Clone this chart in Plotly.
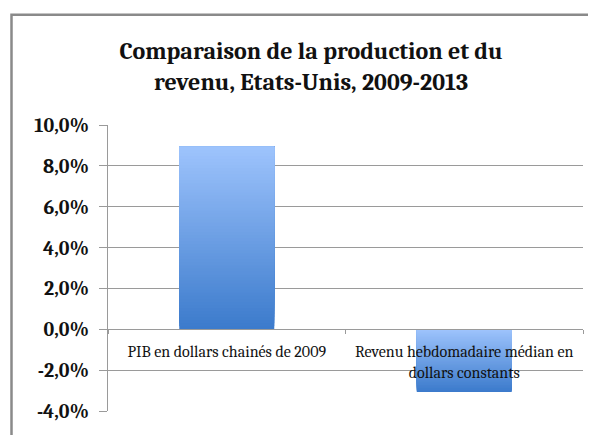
import plotly.graph_objects as go

categories = ["PIB en dollars chainés de 2009",
              "Revenu hebdomadaire médian en<br>dollars constants"]
values = [8.93, -3.07]
y_ticks = [-4, -2, 0, 2, 4, 6, 8, 10]
y_tick_labels = ["-4,0%", "-2,0%", "0,0%", "2,0%", "4,0%", "6,0%", "8,0%", "10,0%"]
title_text = "Comparaison de la production et du<br>revenu, Etats-Unis, 2009-2013"

# gradient colours (light at top of each bar, dark at bottom)
light = (157, 195, 252)
dark = (60, 123, 204)
N = 60

def mix(t):
    return "rgb(%d,%d,%d)" % tuple(round(dark[i] + (light[i] - dark[i]) * t) for i in range(3))

xs, bases, heights, colors = [], [], [], []
for cat, v in zip(categories, values):
    top = max(v, 0)
    bottom = min(v, 0)
    h = (top - bottom) / N
    for k in range(N):
        b = bottom + k * h
        xs.append(cat)
        bases.append(b)
        heights.append(top - b)
        colors.append(mix(k / (N - 1)))

# page body has an 8px margin: figure is drawn at (8, 8) in the window
W, H = 588, 427
L, T = 100, 117
R = W - 575
B = H - 406

SERIF = "Caladea"

fig = go.Figure()
fig.add_trace(go.Bar(
    x=xs, y=heights, base=bases, width=0.4,
    marker=dict(color=colors, line=dict(width=0)),
    hoverinfo="skip", showlegend=False,
))

pw = W - L - R
ph = H - T - B

fig.update_layout(
    width=W, height=H,
    margin=dict(l=L, r=R, t=T, b=B),
    paper_bgcolor="white", plot_bgcolor="white",
    barmode="overlay",
    title=dict(text=title_text, xref="container", x=303 / W, xanchor="center",
               yref="container", y=1 - 50.5 / H, yanchor="middle",
               font=dict(family=SERIF, size=24, color="#111111", weight="bold")),
    xaxis=dict(type="category", categoryorder="array", categoryarray=categories,
               anchor="free", position=4 / 14,
               showline=True, linecolor="#9a9a9a", linewidth=1,
               tickson="boundaries", ticks="outside", ticklen=4, tickcolor="#9a9a9a",
               ticklabelstandoff=8,
               showgrid=False,
               tickfont=dict(family=SERIF, size=16, color="#111111")),
    yaxis=dict(range=[-4, 10], tickvals=y_ticks, ticktext=y_tick_labels,
               showgrid=True, gridcolor="#9a9a9a", gridwidth=1,
               zeroline=False,
               showline=True, linecolor="#9a9a9a", linewidth=1,
               ticks="outside", ticklen=8, tickcolor="#9a9a9a",
               ticklabelstandoff=6,
               tickfont=dict(family=SERIF, size=20, color="#111111", weight="bold")),
    shapes=[dict(type="rect", xref="paper", yref="paper",
                 x0=(3.5 - L) / pw, x1=1.2,
                 y0=-0.3, y1=1 + (T - 5.5) / ph,
                 line=dict(color="#8a8a8a", width=2.5), layer="below")],
)

fig.write_html("out.html")
